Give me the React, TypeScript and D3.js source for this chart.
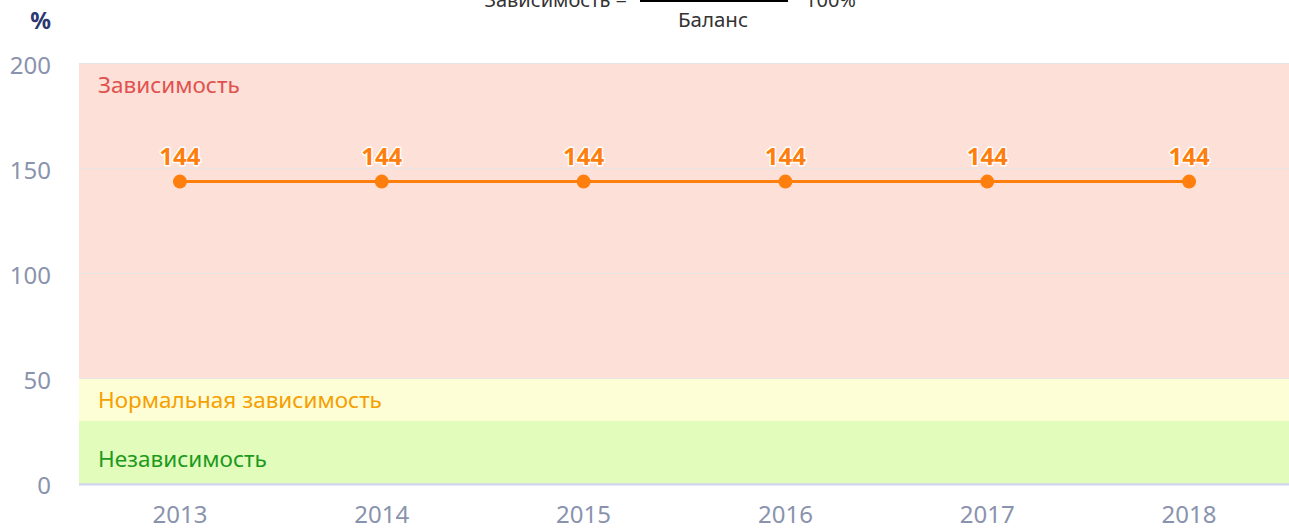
import React from "react";
import * as d3 from "d3";

const years = ["2013", "2014", "2015", "2016", "2017", "2018"];
const dependence = [144, 144, 144, 144, 144, 144];
const yTicks = [0, 50, 100, 150, 200];
const bands = [
  { from: 50, to: 200, label: "Зависимость", fill: "#fde0d8", color: "#e0524e" },
  { from: 30, to: 50, label: "Нормальная зависимость", fill: "#fdfdd6", color: "#f5a000" },
  { from: 0, to: 30, label: "Независимость", fill: "#e2fcbb", color: "#1d9a1d" },
];

const W = 1289;
const H = 528;
const left = 79;
const right = 1290;
const top = 64;
const bottom = 484;
const FONT = "'Noto Sans', 'Open Sans', sans-serif";

export default function App() {
  const x = d3.scaleBand<string>().domain(years).range([left, right]);
  const y = d3.scaleLinear().domain([0, 200]).range([bottom, top]);
  const cx = (d: string) => (x(d) as number) + x.bandwidth() / 2;
  const line = d3
    .line<number>()
    .x((_, i) => cx(years[i]))
    .y((v) => y(v));

  return (
    <svg
      width={W}
      height={H}
      style={{ position: "absolute", left: 0, top: 0, display: "block" }}
      fontFamily={FONT}
    >
      {/* formula */}
      <text x={627} y={7} textAnchor="end" fontSize={20} fill="#333">
        Зависимость =
      </text>
      <rect x={640} y={-2} width={148} height={4} fill="#000" />
      <text x={713} y={27} textAnchor="middle" fontSize={20.5} fill="#333">
        Баланс
      </text>
      <text x={805} y={7} fontSize={20} fill="#333">
        100%
      </text>

      {/* unit */}
      <text x={51} y={29} textAnchor="end" fontSize={23} fontWeight="bold" fill="#2b3770">
        %
      </text>

      {/* bands */}
      {bands.map((b) => (
        <rect
          key={b.label}
          x={left}
          y={y(b.to)}
          width={right - left}
          height={y(b.from) - y(b.to)}
          fill={b.fill}
        />
      ))}

      {/* grid lines */}
      {yTicks.map((t) => (
        <line
          key={t}
          x1={left}
          x2={right}
          y1={y(t) - 0.5}
          y2={y(t) - 0.5}
          stroke="#e6e6e6"
          strokeWidth={1}
        />
      ))}
      <line x1={left} x2={right} y1={bottom + 0.5} y2={bottom + 0.5} stroke="#ccd6eb" strokeWidth={2} />

      {/* band labels */}
      <text x={98} y={y(200) + 29} fontSize={22.5} fill={bands[0].color}>
        {bands[0].label}
      </text>
      <text x={98} y={y(50) + 29} fontSize={22.5} fill={bands[1].color}>
        {bands[1].label}
      </text>
      <text x={98} y={y(30) + 46} fontSize={22.5} fill={bands[2].color}>
        {bands[2].label}
      </text>

      {/* y axis labels */}
      {yTicks.map((t) => (
        <text key={t} x={51} y={y(t) + 10} textAnchor="end" fontSize={24} fill="#8a93ad">
          {t}
        </text>
      ))}

      {/* x axis labels */}
      {years.map((yr) => (
        <text key={yr} x={cx(yr)} y={bottom + 39} textAnchor="middle" fontSize={24} fill="#8a93ad">
          {yr}
        </text>
      ))}

      {/* series */}
      <path d={line(dependence) || ""} fill="none" stroke="#ff7f0e" strokeWidth={3} />
      {dependence.map((v, i) => (
        <circle key={i} cx={cx(years[i])} cy={y(v)} r={7} fill="#ff7f0e" />
      ))}
      {dependence.map((v, i) => (
        <text
          key={"l" + i}
          x={cx(years[i])}
          y={y(v) - 16.5}
          textAnchor="middle"
          fontSize={24}
          fontWeight="bold"
          fill="#ff7f0e"
          stroke="#ffffff"
          strokeWidth={3}
          strokeLinejoin="round"
          paintOrder="stroke"
        >
          {v}
        </text>
      ))}
    </svg>
  );
}
